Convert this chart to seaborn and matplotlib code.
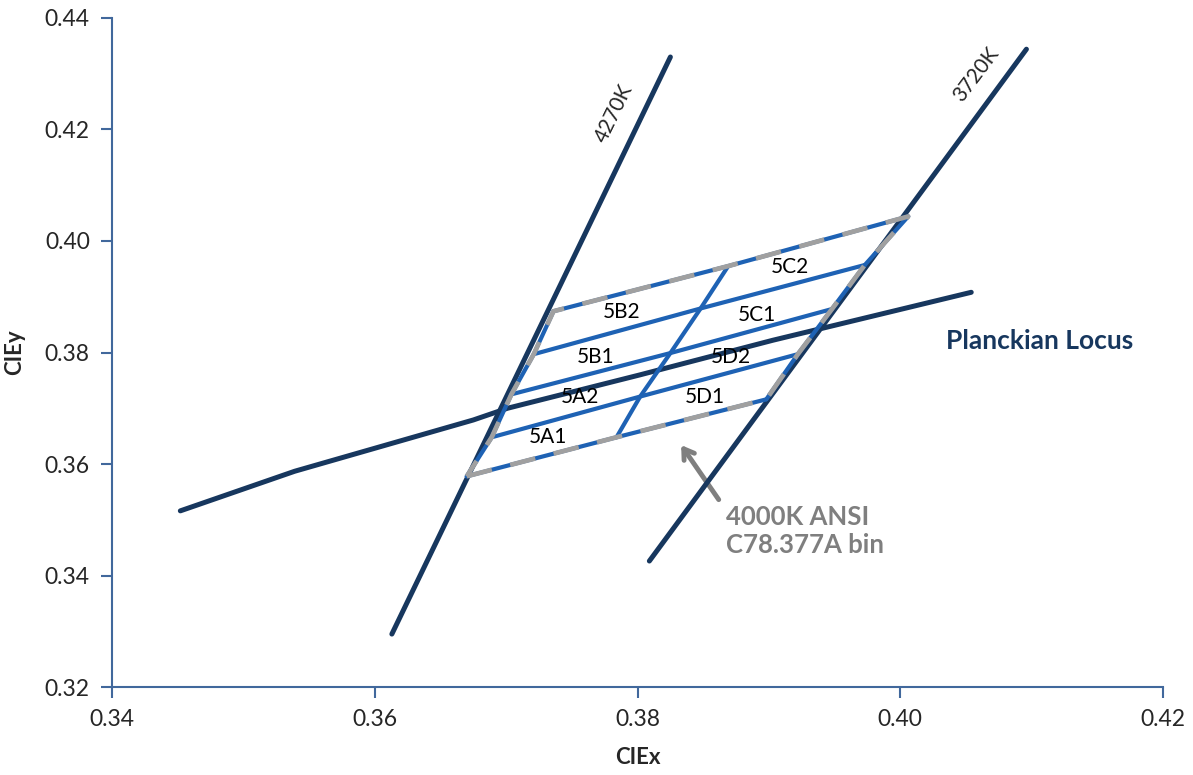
import matplotlib
matplotlib.use("Agg")
import numpy as np
import pandas as pd
import matplotlib.pyplot as plt
import seaborn as sns

# Planckian locus
locus_x = [0.3452, 0.3539, 0.3675, 0.3701, 0.3802, 0.3903, 0.4054]
locus_y = [0.3516, 0.3587, 0.3679, 0.3700, 0.3760, 0.3822, 0.3908]

# isotherm lines (end points)
iso_4270_x = [0.3613, 0.3825]
iso_4270_y = [0.3295, 0.4330]
iso_3720_x = [0.3809, 0.4096]
iso_3720_y = [0.3426, 0.4344]

# 4000K bin grid: rows = lines bottom->top, cols = left / middle / right
bin_x = [[0.3670, 0.3784, 0.3898],
         [0.3689, 0.3802, 0.3922],
         [0.3704, 0.3825, 0.3948],
         [0.3721, 0.3848, 0.3973],
         [0.3736, 0.3869, 0.4006]]
bin_y = [[0.3578, 0.3648, 0.3716],
         [0.3648, 0.3721, 0.3797],
         [0.3725, 0.3799, 0.3878],
         [0.3797, 0.3879, 0.3957],
         [0.3874, 0.3955, 0.4044]]

# sub-bin labels
bin_names = ["5A1", "5A2", "5B1", "5B2", "5D1", "5D2", "5C1", "5C2"]
bin_lab_x = [0.3732, 0.3756, 0.3768, 0.3788, 0.3851, 0.3871, 0.3891, 0.3916]
bin_lab_y = [0.3648, 0.3720, 0.3792, 0.3873, 0.3720, 0.3792, 0.3867, 0.3953]

navy = "#17375E"
blue = "#1E62B4"
grey = "#A0A0A0"

sns.set_style("white")
plt.rcParams["font.family"] = ["Lato", "DejaVu Sans"]

fig = plt.figure(figsize=(11.93, 7.75), dpi=100)
ax = fig.add_axes([0.0939, 0.1135, 0.8810, 0.8633])

df_locus = pd.DataFrame({"x": locus_x, "y": locus_y})
sns.lineplot(x="x", y="y", data=df_locus, sort=False, color=navy, lw=3.6, ax=ax,
             solid_capstyle="round", zorder=2)
for xs, ys in [(iso_4270_x, iso_4270_y), (iso_3720_x, iso_3720_y)]:
    sns.lineplot(x=xs, y=ys, sort=False, color=navy, lw=3.6, ax=ax,
                 solid_capstyle="round", zorder=2)

bx = np.array(bin_x)
by = np.array(bin_y)
for i in range(bx.shape[0]):
    sns.lineplot(x=bx[i], y=by[i], sort=False, color=blue, lw=3, ax=ax, zorder=4)
for j in range(bx.shape[1]):
    sns.lineplot(x=bx[:, j], y=by[:, j], sort=False, color=blue, lw=3, ax=ax, zorder=4)

# dashed outline of the whole bin
out_x = list(bx[0]) + list(bx[1:, 2]) + list(bx[4][::-1][1:]) + list(bx[::-1, 0][1:])
out_y = list(by[0]) + list(by[1:, 2]) + list(by[4][::-1][1:]) + list(by[::-1, 0][1:])
ax.plot(out_x, out_y, color=grey, lw=3.4, dashes=(5.5, 4), zorder=5)

for name, lx, ly in zip(bin_names, bin_lab_x, bin_lab_y):
    ax.text(lx, ly, name, fontsize=15, ha="center", va="center", color="black", zorder=6)

ax.text(0.3782, 0.4228, "4270K", fontsize=15, rotation=64, ha="center", va="center",
        rotation_mode="anchor")
ax.text(0.4058, 0.4298, "3720K", fontsize=15, rotation=53, ha="center", va="center",
        rotation_mode="anchor")

ax.text(0.4035, 0.3821, "Planckian Locus", fontsize=19, fontweight="bold", color=navy,
        ha="left", va="center")

ax.annotate("", xy=(0.3832, 0.3638), xytext=(0.3863, 0.3532),
            arrowprops=dict(arrowstyle="->,head_length=0.7,head_width=0.45",
                            color="#7F7F7F", lw=3.5), zorder=1)
ax.text(0.3867, 0.3526, "4000K ANSI\nC78.377A bin", fontsize=18.5, fontweight="bold",
        color="#7F7F7F", ha="left", va="top", linespacing=1.2)

ax.set_xlim(0.34, 0.42)
ax.set_ylim(0.32, 0.44)
ax.set_xticks([0.34, 0.36, 0.38, 0.40, 0.42])
ax.set_yticks([0.32, 0.34, 0.36, 0.38, 0.40, 0.42, 0.44])
ax.xaxis.set_major_formatter(matplotlib.ticker.FormatStrFormatter("%.2f"))
ax.yaxis.set_major_formatter(matplotlib.ticker.FormatStrFormatter("%.2f"))
ax.tick_params(axis="both", labelsize=16.5, length=8, width=1.5, color="#41689C",
               direction="out", left=True, bottom=True, pad=8)
for s in ["top", "right"]:
    ax.spines[s].set_visible(False)
for s in ["left", "bottom"]:
    ax.spines[s].set_color("#41689C")
    ax.spines[s].set_linewidth(1.5)

ax.set_xlabel("CIEx", fontsize=16, fontweight="bold", labelpad=12)
ax.set_ylabel("CIEy", fontsize=16, fontweight="bold", labelpad=14)

fig.savefig("out.png", dpi=100)
